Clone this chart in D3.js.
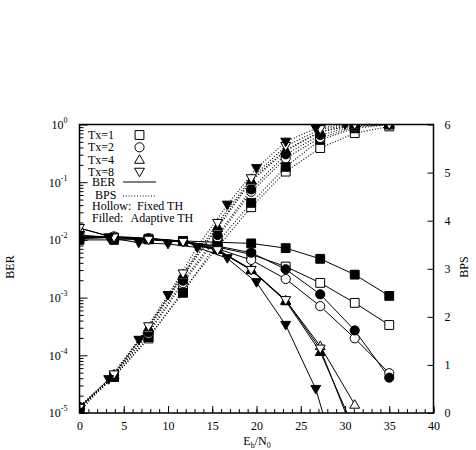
<!DOCTYPE html>
<html>
<head>
<meta charset="utf-8">
<script src="https://cdn.jsdelivr.net/npm/d3@7"></script>
<style>
  body { margin: 0; background: #fff; }
  svg { font-family: "Liberation Serif", "Times New Roman", serif; }
</style>
</head>
<body>
<div id="chart"></div>
<script>
// Eb/N0 points (Tx=8 adaptive uses its own grid)
var xCommon = [0, 3.9, 7.8, 11.7, 15.6, 19.4, 23.3, 27.2, 31.1, 35];
var xTx8a = [0, 3.3, 6.7, 10, 13.3, 16.7, 20, 23.3, 26.7, 30];

var berTx1f = [1.1e-2, 1.1e-2, 1.05e-2, 9.5e-3, 7.5e-3, 5.6e-3, 3.45e-3, 1.8e-3, 8.1e-4, 3.35e-4];
var berTx1a = [1.0e-2, 1.0e-2, 1.02e-2, 9.6e-3, 9.1e-3, 8.7e-3, 7.2e-3, 4.7e-3, 2.5e-3, 1.07e-3];
var berTx2f = [1.15e-2, 1.15e-2, 1.07e-2, 9.5e-3, 7.0e-3, 4.5e-3, 2.1e-3, 7.1e-4, 1.97e-4, 4.9e-5];
var berTx2a = [1.05e-2, 1.1e-2, 1.05e-2, 9.4e-3, 7.8e-3, 6.0e-3, 3.1e-3, 1.14e-3, 2.7e-4, 4.1e-5];
var berTx4f = [1.6e-2, 1.1e-2, 1.05e-2, 9.3e-3, 6.8e-3, 3.1e-3, 9.0e-4, 1.45e-4, 1.4e-5];
var berTx4a = [1.2e-2, 1.1e-2, 1.05e-2, 9.3e-3, 6.8e-3, 3.0e-3, 8.7e-4, 1.15e-4, 5e-6];
var berTx8f = [1.6e-2, 1.1e-2, 1.0e-2, 9.2e-3, 6.6e-3, 3.0e-3, 9.0e-4, 1.3e-4, 4e-6];
var berTx8a = [1.2e-2, 1.1e-2, 8.9e-3, 8.5e-3, 7.4e-3, 4.8e-3, 1.84e-3, 3.35e-4, 2.6e-5, 5e-7];

var bpsTx1f = [0.1, 0.75, 1.55, 2.55, 3.45, 4.28, 5.02, 5.51, 5.82, 5.96];
var bpsTx1a = [0.1, 0.75, 1.58, 2.5, 3.55, 4.37, 5.12, 5.68, 5.92, 6.0];
var bpsTx2f = [0.12, 0.78, 1.65, 2.7, 3.65, 4.6, 5.3, 5.72, 5.95, 6.0];
var bpsTx2a = [0.12, 0.78, 1.68, 2.75, 3.7, 4.65, 5.38, 5.78, 5.97, 6.0];
var bpsTx4f = [0.13, 0.8, 1.75, 2.85, 3.85, 4.82, 5.45, 5.85, 5.98, 6.0];
var bpsTx4a = [0.13, 0.8, 1.78, 2.88, 3.88, 4.85, 5.47, 5.85, 6.0, 6.0];
var bpsTx8f = [0.1, 0.8, 1.8, 2.9, 3.95, 4.88, 5.55, 5.9, 6.0, 6.0];
var bpsTx8a = [0.02, 0.7, 1.52, 2.45, 3.45, 4.33, 5.09, 5.64, 5.92, 6.0];

var series = [
    {shape: "square", filled: false, x: xCommon, ber: berTx1f, bps: bpsTx1f},
    {shape: "square", filled: true, x: xCommon, ber: berTx1a, bps: bpsTx1a},
    {shape: "circle", filled: false, x: xCommon, ber: berTx2f, bps: bpsTx2f},
    {shape: "circle", filled: true, x: xCommon, ber: berTx2a, bps: bpsTx2a},
    {shape: "up", filled: false, x: xCommon, ber: berTx4f, bps: bpsTx4f},
    {shape: "up", filled: true, x: xCommon, ber: berTx4a, bps: bpsTx4a},
    {shape: "down", filled: false, x: xCommon, ber: berTx8f, bps: bpsTx8f},
    {shape: "down", filled: true, x: xTx8a, ber: berTx8a, bps: bpsTx8a}
];

var legendTx = [["Tx=1", "square"], ["Tx=2", "circle"], ["Tx=4", "up"], ["Tx=8", "down"]];

var plotL = 79.5, plotR = 433.5, plotT = 124.5, plotB = 413;

var svg = d3.select("#chart").append("svg")
    .attr("width", 476)
    .attr("height", 450);

var x = d3.scaleLinear().domain([0, 40]).range([plotL, plotR]);
var yBer = d3.scaleLog().domain([1e-5, 1]).range([plotB, plotT]);
var yBps = d3.scaleLinear().domain([0, 6]).range([plotB, plotT]);

function symbolPath(shape) {
    if (shape == "square") return d3.symbol(d3.symbolSquare, 78)();
    if (shape == "circle") return d3.symbol(d3.symbolCircle, 66)();
    return d3.symbol(d3.symbolTriangle, 42)();
}

function drawMarker(g, shape, filled, cx, cy) {
    var rot = shape == "down" ? " rotate(180)" : "";
    var dy = shape == "up" ? 0.8 : (shape == "down" ? -0.8 : 0);
    g.append("path")
        .attr("d", symbolPath(shape))
        .attr("transform", "translate(" + cx + "," + (cy + dy) + ")" + rot)
        .attr("fill", filled ? "#000" : "#fff")
        .attr("stroke", "#000")
        .attr("stroke-width", 1);
}

svg.append("defs").append("clipPath")
    .attr("id", "plotclip")
    .append("rect")
    .attr("x", plotL).attr("y", plotT)
    .attr("width", plotR - plotL).attr("height", plotB - plotT);

var plot = svg.append("g").attr("clip-path", "url(#plotclip)");

var line = d3.line();
var linesG = plot.append("g");
var marksG = plot.append("g");

series.forEach(function (s) {
    var berPts = s.ber.map(function (v, i) { return [x(s.x[i]), yBer(v)]; });
    var bpsPts = s.bps.map(function (v, i) { return [x(s.x[i]), yBps(v)]; });
    linesG.append("path")
        .attr("d", line(berPts))
        .attr("fill", "none").attr("stroke", "#000").attr("stroke-width", 1);
    linesG.append("path")
        .attr("d", line(bpsPts))
        .attr("fill", "none").attr("stroke", "#000").attr("stroke-width", 1.1)
        .attr("stroke-dasharray", "1,1.8");
    s.berPts = berPts;
    s.bpsPts = bpsPts;
});

series.forEach(function (s) {
    s.bpsPts.concat(s.berPts).forEach(function (p) {
        if (p[1] <= plotB + 1) drawMarker(marksG, s.shape, s.filled, p[0], p[1]);
    });
});

// axes
var font = "12px";

var xMajor = svg.append("g")
    .attr("transform", "translate(0," + plotB + ")")
    .call(d3.axisBottom(x).tickValues(d3.range(0, 41, 5)).tickSize(-7).tickPadding(8).tickFormat(d3.format("d")));
var xMinor = svg.append("g")
    .attr("transform", "translate(0," + plotB + ")")
    .call(d3.axisBottom(x).tickValues(d3.range(0, 41, 1)).tickSize(-4).tickFormat(""));

var minorVals = [];
for (var e = -5; e < 0; e++) for (var m = 2; m < 10; m++) minorVals.push(m * Math.pow(10, e));
var yMinor = svg.append("g")
    .attr("transform", "translate(" + plotL + ",0)")
    .call(d3.axisLeft(yBer).tickValues(minorVals).tickSize(-4).tickFormat(""));
var yMajor = svg.append("g")
    .attr("transform", "translate(" + plotL + ",0)")
    .call(d3.axisLeft(yBer).tickValues([1e-5, 1e-4, 1e-3, 1e-2, 1e-1, 1]).tickSize(-8).tickPadding(12).tickFormat(""));

yMajor.selectAll(".tick text").each(function (d) {
    var t = d3.select(this);
    t.append("tspan").text("10");
    t.append("tspan").text(Math.round(Math.log10(d))).attr("dy", -6).attr("font-size", "8px");
});

var yRight = svg.append("g")
    .attr("transform", "translate(" + plotR + ",0)")
    .call(d3.axisRight(yBps).ticks(6).tickSize(-6).tickPadding(11).tickFormat(d3.format("d")));

[xMajor, xMinor, yMinor, yMajor, yRight].forEach(function (g) {
    g.select(".domain").remove();
    g.selectAll("line").attr("stroke", "#000");
    g.selectAll("text").attr("fill", "#000").style("font-size", font).style("font-family", "Liberation Serif, Times New Roman, serif");
});

// frame
svg.append("rect")
    .attr("x", plotL).attr("y", plotT)
    .attr("width", plotR - plotL).attr("height", plotB - plotT)
    .attr("fill", "none").attr("stroke", "#000").attr("stroke-width", 1.5);

// axis titles
svg.append("text")
    .attr("transform", "translate(14,267) rotate(-90)")
    .attr("text-anchor", "middle").style("font-size", font)
    .text("BER");
svg.append("text")
    .attr("transform", "translate(468,267) rotate(-90)")
    .attr("text-anchor", "middle").style("font-size", font)
    .text("BPS");
var xt = svg.append("text")
    .attr("x", 257).attr("y", 445)
    .attr("text-anchor", "middle").style("font-size", font);
xt.append("tspan").text("E");
xt.append("tspan").text("b").attr("dy", 3).attr("font-size", "8px");
xt.append("tspan").text("/N").attr("dy", -3);
xt.append("tspan").text("0").attr("dy", 3).attr("font-size", "8px");

// legend
var leg = svg.append("g").style("font-size", font);
legendTx.forEach(function (d, i) {
    var yy = 135 + i * 12.3;
    leg.append("text").attr("x", 88).attr("y", yy + 4).text(d[0]);
    drawMarker(leg, d[1], false, 139.5, yy);
});
leg.append("text").attr("x", 92).attr("y", 186).text("BER");
leg.append("line").attr("x1", 123).attr("x2", 156).attr("y1", 182).attr("y2", 182)
    .attr("stroke", "#000").attr("stroke-width", 1);
leg.append("text").attr("x", 95).attr("y", 199).text("BPS");
leg.append("line").attr("x1", 123).attr("x2", 156).attr("y1", 196).attr("y2", 196)
    .attr("stroke", "#000").attr("stroke-width", 1.1).attr("stroke-dasharray", "1,1.8");
leg.append("text").attr("x", 92).attr("y", 210).text("Hollow:");
leg.append("text").attr("x", 137).attr("y", 210).text("Fixed TH");
leg.append("text").attr("x", 92).attr("y", 222).text("Filled:");
leg.append("text").attr("x", 130.5).attr("y", 222).text("Adaptive TH");
</script>
</body>
</html>
